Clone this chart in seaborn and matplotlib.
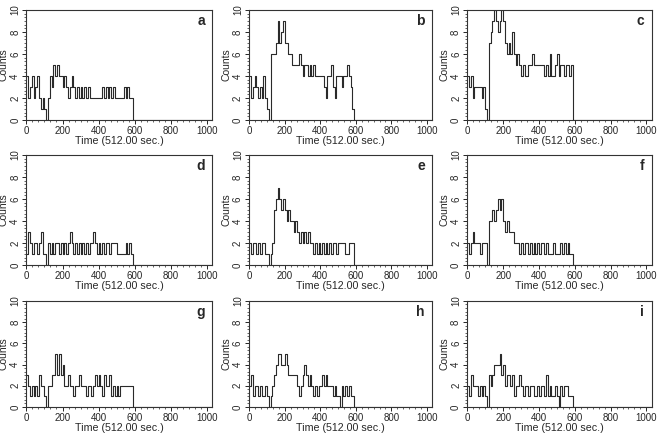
import matplotlib
matplotlib.use("Agg")
import matplotlib.pyplot as plt
import numpy as np
import pandas as pd
import seaborn as sns
from matplotlib.ticker import AutoMinorLocator

# counts per 10-unit time bin, bins starting at 0, 10, ..., 580; zero afterwards
BIN_WIDTH = 10
END_TIME = 1030

counts_a = [4, 2, 3, 4, 2, 3, 4, 2, 1, 2, 1, 0, 2, 4, 3, 5, 4, 5, 4, 4,
            3, 4, 3, 2, 3, 4, 3, 2, 3, 2, 3, 2, 3, 2, 3, 2, 2, 2, 2, 2,
            2, 2, 3, 2, 3, 2, 3, 2, 3, 2, 2, 2, 2, 2, 3, 2, 3, 2, 2]
counts_b = [4, 2, 3, 4, 3, 2, 3, 2, 4, 2, 1, 0, 6, 6, 6, 7, 9, 7, 8, 9,
            7, 7, 6, 6, 5, 5, 5, 5, 6, 5, 4, 5, 5, 4, 5, 4, 5, 4, 4, 4,
            4, 4, 3, 2, 4, 4, 5, 3, 2, 4, 4, 4, 3, 4, 4, 5, 4, 3, 1]
counts_c = [4, 3, 4, 2, 3, 3, 3, 3, 2, 3, 1, 0, 7, 8, 9, 10, 9, 8, 9, 10,
            9, 7, 6, 7, 6, 8, 6, 5, 6, 5, 4, 5, 4, 4, 5, 5, 6, 5, 5, 5,
            5, 5, 5, 4, 5, 4, 6, 4, 4, 5, 6, 4, 5, 5, 4, 5, 5, 4, 5]
counts_d = [1, 3, 2, 1, 2, 2, 1, 2, 3, 1, 1, 0, 2, 1, 2, 1, 2, 2, 1, 2,
            1, 2, 1, 2, 3, 2, 1, 2, 1, 2, 1, 2, 1, 2, 1, 2, 2, 3, 2, 1,
            2, 1, 2, 1, 2, 2, 1, 2, 2, 2, 1, 1, 1, 1, 1, 2, 1, 2, 1]
counts_e = [2, 1, 2, 2, 1, 2, 1, 2, 2, 1, 1, 0, 1, 2, 5, 6, 7, 6, 5, 6,
            5, 4, 5, 4, 4, 3, 4, 3, 2, 3, 2, 3, 2, 3, 2, 2, 1, 2, 1, 2,
            1, 2, 1, 2, 1, 2, 1, 2, 2, 1, 2, 2, 2, 2, 1, 1, 2, 2, 2]
counts_f = [2, 1, 2, 3, 2, 2, 2, 1, 2, 2, 2, 0, 4, 4, 5, 4, 5, 6, 5, 6,
            4, 3, 4, 3, 3, 3, 2, 2, 2, 1, 2, 1, 2, 2, 1, 2, 1, 2, 1, 2,
            1, 2, 2, 1, 2, 1, 1, 1, 2, 1, 1, 1, 2, 1, 2, 1, 2, 1, 1]
counts_g = [3, 2, 1, 2, 1, 2, 1, 3, 2, 2, 1, 0, 2, 2, 3, 3, 5, 3, 5, 3,
            4, 2, 2, 3, 2, 2, 1, 2, 2, 3, 2, 2, 2, 1, 2, 2, 1, 2, 3, 2,
            3, 2, 1, 3, 2, 2, 3, 1, 2, 1, 2, 1, 2, 2, 2, 2, 2, 2, 2]
counts_h = [2, 3, 1, 2, 2, 1, 2, 1, 1, 2, 1, 0, 1, 2, 3, 4, 5, 5, 4, 4,
            5, 4, 3, 3, 3, 3, 3, 2, 1, 2, 3, 4, 3, 2, 3, 2, 1, 2, 1, 2,
            2, 3, 2, 3, 2, 2, 2, 1, 2, 1, 1, 0, 2, 1, 2, 1, 2, 1, 1]
counts_i = [2, 1, 3, 2, 2, 2, 1, 2, 1, 2, 1, 0, 3, 2, 3, 4, 4, 4, 5, 3,
            4, 2, 3, 3, 2, 3, 1, 2, 2, 3, 2, 1, 2, 2, 1, 2, 2, 1, 1, 2,
            1, 2, 2, 1, 3, 1, 2, 1, 1, 2, 1, 0, 2, 1, 2, 2, 1, 1, 1]

panel_labels = ["a", "b", "c", "d", "e", "f", "g", "h", "i"]
panel_counts = [counts_a, counts_b, counts_c, counts_d, counts_e,
                counts_f, counts_g, counts_h, counts_i]

x_ticks = [0, 200, 400, 600, 800, 1000]
y_ticks = [0, 2, 4, 6, 8, 10]

sns.set_style("ticks")
plt.rcParams["font.family"] = ["Liberation Sans", "DejaVu Sans"]

fig = plt.figure(figsize=(6.61, 4.38), dpi=100)

col_left = [0.040, 0.377, 0.707]
col_width = [0.281, 0.277, 0.279]
row_bottom = [0.726, 0.395, 0.071]
row_height = [0.251, 0.251, 0.242]


def make_frame(counts):
    """Build a step series: bins, then the zero tail."""
    n = len(counts)
    t = list(np.arange(n) * BIN_WIDTH) + [n * BIN_WIDTH, END_TIME]
    c = list(counts) + [0, 0]
    return pd.DataFrame({"time": t, "counts": c})


for k, (label, counts) in enumerate(zip(panel_labels, panel_counts)):
    r, cidx = divmod(k, 3)
    ax = fig.add_axes([col_left[cidx], row_bottom[r], col_width[cidx], row_height[r]])
    df = make_frame(counts)
    sns.lineplot(data=df, x="time", y="counts", ax=ax, estimator=None, sort=False,
                 drawstyle="steps-post", color="#2a2a2a", linewidth=0.8)
    ax.set_xlim(0, END_TIME)
    ax.set_ylim(0, 10)
    ax.set_xticks(x_ticks)
    ax.set_yticks(y_ticks)
    ax.xaxis.set_minor_locator(AutoMinorLocator(6))
    ax.yaxis.set_minor_locator(AutoMinorLocator(6))
    ax.tick_params(axis="both", which="major", labelsize=7, length=3, width=0.7, pad=1.5)
    ax.tick_params(axis="both", which="minor", length=1.5, width=0.5)
    for lab in ax.get_yticklabels():
        lab.set_rotation(90)
        lab.set_va("center")
    ax.set_xlabel("Time (512.00 sec.)", fontsize=7.7, labelpad=0)
    ax.set_ylabel("Counts", fontsize=7.5, labelpad=1)
    for sp in ax.spines.values():
        sp.set_visible(True)
        sp.set_linewidth(0.8)
        sp.set_color("#333333")
    ax.text(0.96, 0.9, label, transform=ax.transAxes, ha="right", va="center",
            fontsize=10, fontweight="bold")

fig.savefig("out.png", dpi=100)
